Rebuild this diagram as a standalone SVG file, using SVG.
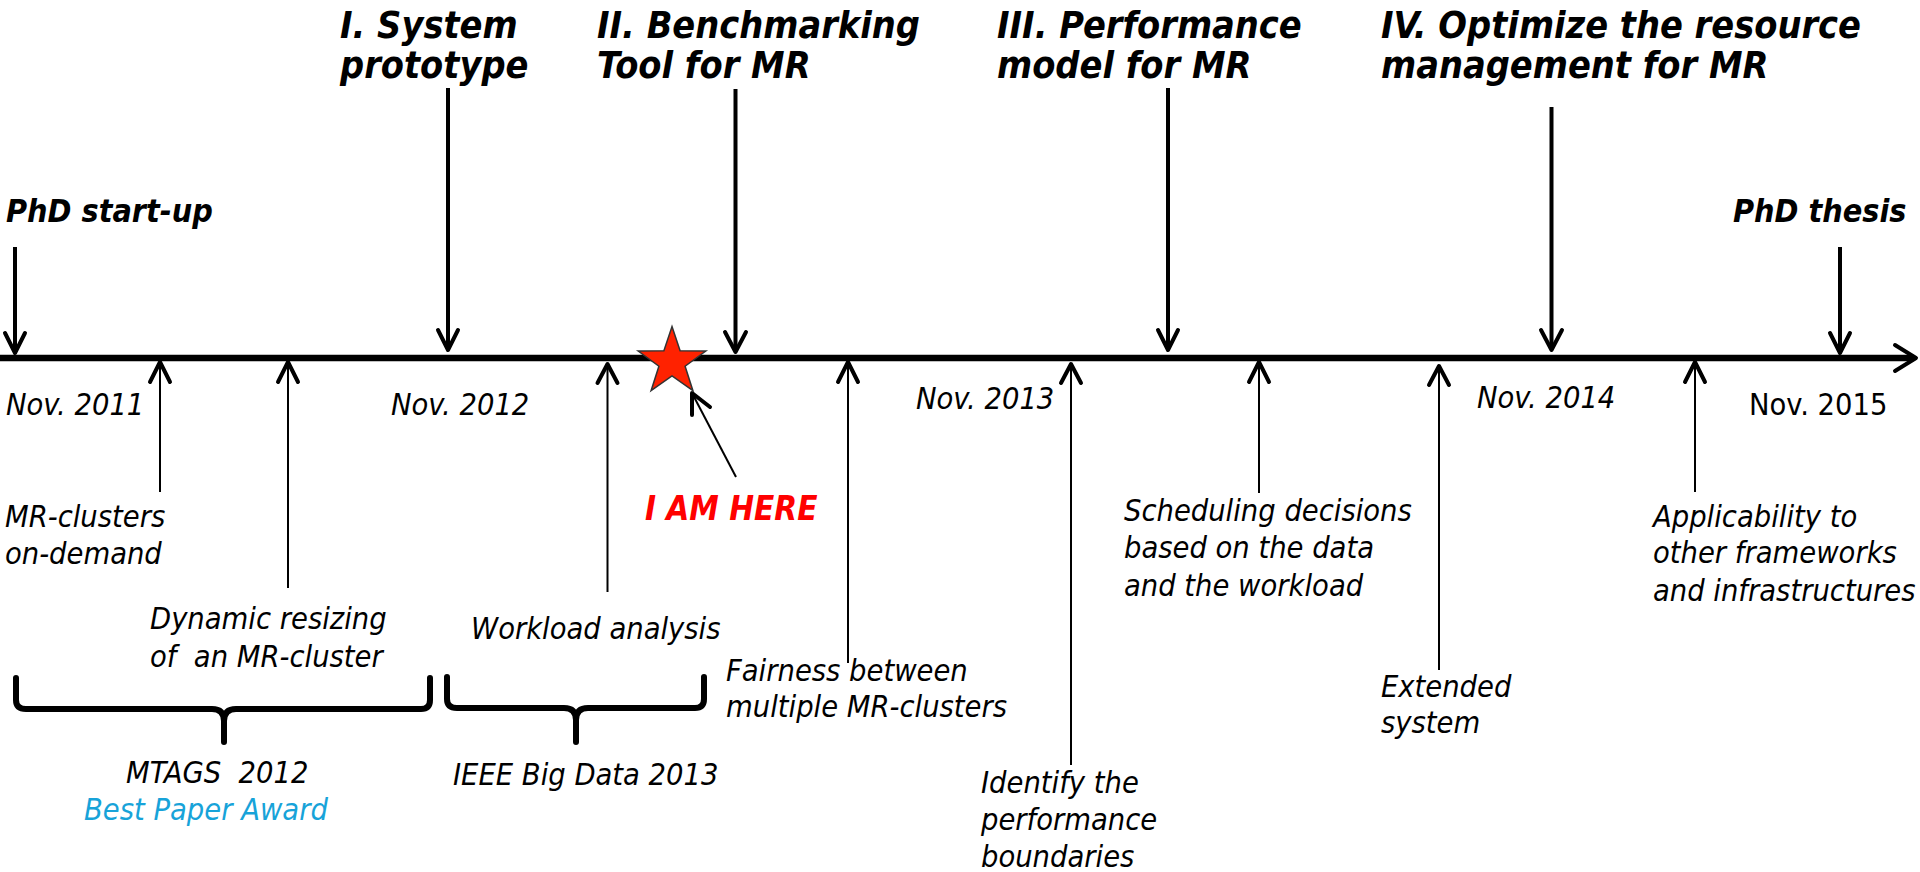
<svg xmlns="http://www.w3.org/2000/svg" width="1920" height="872" viewBox="0 0 1920 872">
<style>
text { font-family: "DejaVu Sans Condensed", "DejaVu Sans", sans-serif; font-stretch: condensed; font-style: italic; fill: #000; }
.lbl { font-size: 30.5px; }
.hdr { font-size: 37.5px; font-weight: bold; }
.phd { font-size: 32px; font-weight: bold; }
.date { font-size: 30.5px; }
.here { font-size: 33px; font-weight: bold; fill: #FF0000; }
.award { fill: #17A3D9; }
.down { stroke: #000; stroke-width: 4; fill: none; }
.head { stroke: #000; stroke-width: 4; fill: none; stroke-linecap: round; stroke-linejoin: round; }
.up { stroke: #000; stroke-width: 2; fill: none; }
.brace { stroke: #000; stroke-width: 6; fill: none; stroke-linecap: round; stroke-linejoin: round; }
</style>
<rect width="1920" height="872" fill="#fff"/>

<g id="connectors">
  <!-- main timeline -->
  <line x1="0" y1="358" x2="1914" y2="358" stroke="#000" stroke-width="6.5"/>
  <polyline class="head" points="1895,345 1916,358 1895,371" stroke-width="6"/>

  <!-- down arrows -->
  <line class="down" x1="15" y1="247" x2="15" y2="352"/>
  <polyline class="head" points="5,333 15,353 25,333"/>
  <line class="down" x1="448" y1="88" x2="448" y2="349"/>
  <polyline class="head" points="438,330 448,350 458,330"/>
  <line class="down" x1="735.5" y1="89" x2="735.5" y2="351"/>
  <polyline class="head" points="725,332 735.5,352 746,332"/>
  <line class="down" x1="1168" y1="88" x2="1168" y2="349"/>
  <polyline class="head" points="1158,330 1168,350 1178,330"/>
  <line class="down" x1="1551.5" y1="107" x2="1551.5" y2="349"/>
  <polyline class="head" points="1541,330 1551.5,350 1562,330"/>
  <line class="down" x1="1840" y1="247" x2="1840" y2="352"/>
  <polyline class="head" points="1830,333 1840,353 1850,333"/>

  <!-- up arrows -->
  <line class="up" x1="160" y1="363" x2="160" y2="492"/>
  <polyline class="head" points="150,382 160,362 170,382"/>
  <line class="up" x1="288" y1="363" x2="288" y2="588"/>
  <polyline class="head" points="278,382 288,362 298,382"/>
  <line class="up" x1="607.5" y1="365" x2="607.5" y2="592"/>
  <polyline class="head" points="597.5,383 607.5,364 617.5,383"/>
  <line class="up" x1="848" y1="363" x2="848" y2="663"/>
  <polyline class="head" points="838,382 848,362 858,382"/>
  <line class="up" x1="1071" y1="365" x2="1071" y2="765"/>
  <polyline class="head" points="1061,383 1071,364 1081,383"/>
  <line class="up" x1="1259" y1="363" x2="1259" y2="493"/>
  <polyline class="head" points="1249,382 1259,362 1269,382"/>
  <line class="up" x1="1439" y1="367" x2="1439" y2="670"/>
  <polyline class="head" points="1429,385 1439,366 1449,385"/>
  <line class="up" x1="1695" y1="363" x2="1695" y2="492"/>
  <polyline class="head" points="1685,382 1695,362 1705,382"/>

  <!-- pointer to star -->
  <line class="up" x1="692.5" y1="394" x2="736" y2="477"/>
  <polyline class="head" points="692,415 692,393 710,407"/>

  <!-- braces -->
  <path class="brace" d="M16,678 L16,700 Q16,709 26,709 L212,709 Q224,709 224,721 L224,742 M224,721 Q224,709 236,709 L421,709 Q430,709 430,700 L430,678"/>
  <path class="brace" d="M447,677 L447,699 Q447,708 457,708 L564,708 Q576,708 576,720 L576,742 M576,720 Q576,708 588,708 L695,708 Q704,708 704,699 L704,677"/>
</g>

<g id="star">
  <polygon points="672,326.5 680.1,350.8 705.8,351 685.1,366.2 692.9,390.7 672,375.8 651.1,390.7 658.9,366.2 638.2,351 663.9,350.8" fill="#FF2200" stroke="#333" stroke-width="1.5"/>
</g>

<g id="node-phd-start"><text class="phd" x="6" y="222">PhD start-up</text></g>
<g id="node-system"><text class="hdr" x="340" y="38">I. System</text><text class="hdr" x="340" y="78">prototype</text></g>
<g id="node-benchmark"><text class="hdr" x="597" y="38">II. Benchmarking</text><text class="hdr" x="597" y="78">Tool for MR</text></g>
<g id="node-perf"><text class="hdr" x="997" y="38">III. Performance</text><text class="hdr" x="997" y="78">model for MR</text></g>
<g id="node-optimize"><text class="hdr" x="1381" y="38">IV. Optimize the resource</text><text class="hdr" x="1381" y="78">management for MR</text></g>
<g id="node-phd-thesis"><text class="phd" x="1733" y="222">PhD thesis</text></g>

<g id="dates">
  <text class="date" x="6" y="415">Nov. 2011</text>
  <text class="date" x="391" y="415">Nov. 2012</text>
  <text class="date" x="916" y="409">Nov. 2013</text>
  <text class="date" x="1477" y="408">Nov. 2014</text>
  <text class="date" x="1749" y="415" style="font-style:normal">Nov. 2015</text>
</g>

<g id="node-here"><text class="here" x="645" y="520">I AM HERE</text></g>
<g id="node-mrclusters"><text class="lbl" x="5" y="527">MR-clusters</text><text class="lbl" x="5" y="564">on-demand</text></g>
<g id="node-resizing"><text class="lbl" x="150" y="629">Dynamic resizing</text><text class="lbl" x="150" y="667" xml:space="preserve">of  an MR-cluster</text></g>
<g id="node-workload"><text class="lbl" x="471" y="639">Workload analysis</text></g>
<g id="node-fairness"><text class="lbl" x="726" y="681">Fairness between</text><text class="lbl" x="726" y="717">multiple MR-clusters</text></g>
<g id="node-mtags"><text class="lbl" x="126" y="783" xml:space="preserve">MTAGS  2012</text><text class="lbl award" x="84" y="820">Best Paper Award</text></g>
<g id="node-ieee"><text class="lbl" x="453" y="785">IEEE Big Data 2013</text></g>
<g id="node-identify"><text class="lbl" x="981" y="793">Identify the</text><text class="lbl" x="981" y="830">performance</text><text class="lbl" x="981" y="867">boundaries</text></g>
<g id="node-scheduling"><text class="lbl" x="1124" y="521">Scheduling decisions</text><text class="lbl" x="1124" y="558">based on the data</text><text class="lbl" x="1124" y="596">and the workload</text></g>
<g id="node-extended"><text class="lbl" x="1381" y="697">Extended</text><text class="lbl" x="1381" y="733">system</text></g>
<g id="node-applicability"><text class="lbl" x="1653" y="527">Applicability to</text><text class="lbl" x="1653" y="563">other frameworks</text><text class="lbl" x="1653" y="601">and infrastructures</text></g>
</svg>
